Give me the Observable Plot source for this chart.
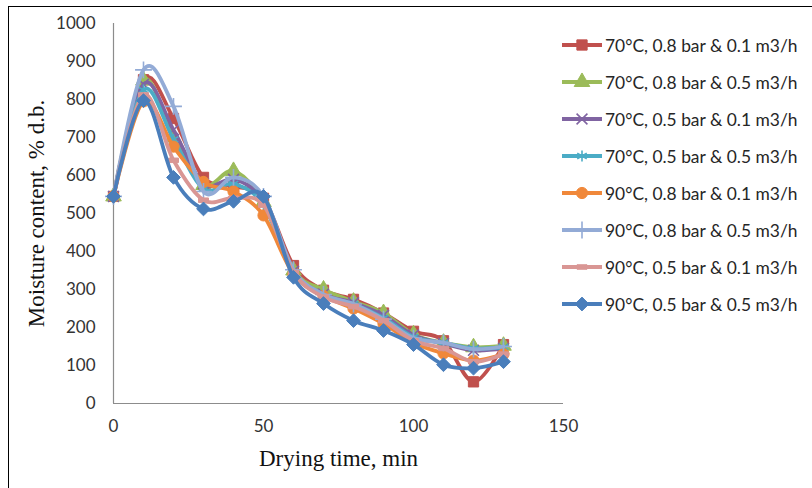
<!DOCTYPE html>
<html><head><meta charset="utf-8">
<script src="https://cdn.jsdelivr.net/npm/d3@7"></script>
<script src="https://cdn.jsdelivr.net/npm/@observablehq/plot@0.6"></script>
<style>
html,body{margin:0;padding:0;background:#fff;overflow:hidden}
#wrap{position:relative;width:812px;height:488px;overflow:hidden}
#frame{position:absolute;left:8px;top:6px;width:900px;height:600px;border:1.5px solid #000;box-sizing:border-box}
#chart{position:absolute;left:0;top:0}
.item{position:absolute;left:560px;height:22px;display:flex;align-items:center;font-family:Lato,"Open Sans",sans-serif;font-size:17.4px;color:#262626;white-space:nowrap}
.item svg{display:block;margin-right:1px}
</style></head><body>
<div id="wrap"><div id="frame"></div><div id="chart"></div><div id="legend"></div></div>
<script>
const times = [0, 10, 20, 30, 40, 50, 60, 70, 80, 90, 100, 110, 120, 130];
const seriesNames = [
  "70°C, 0.8 bar & 0.1 m3/h",
  "70°C, 0.8 bar & 0.5 m3/h",
  "70°C, 0.5 bar & 0.1 m3/h",
  "70°C, 0.5 bar & 0.5 m3/h",
  "90°C, 0.8 bar & 0.1 m3/h",
  "90°C, 0.8 bar & 0.5 m3/h",
  "90°C, 0.5 bar & 0.1 m3/h",
  "90°C, 0.5 bar & 0.5 m3/h"
];
const m70_08_01 = [545, 852, 750, 595, 572, 540, 363, 298, 274, 238, 190, 165, 57, 155];
const m70_08_05 = [545, 850, 700, 575, 612, 530, 350, 300, 268, 238, 182, 160, 148, 152];
const m70_05_01 = [545, 840, 720, 578, 590, 532, 348, 288, 265, 232, 180, 158, 140, 145];
const m70_05_05 = [545, 825, 695, 565, 578, 522, 345, 285, 262, 225, 175, 160, 145, 148];
const m90_08_01 = [545, 795, 676, 583, 558, 495, 340, 283, 250, 210, 160, 132, 113, 130];
const m90_08_05 = [545, 878, 782, 558, 595, 545, 352, 287, 262, 222, 172, 160, 143, 150];
const m90_05_01 = [545, 812, 640, 535, 540, 522, 345, 280, 255, 218, 165, 145, 110, 130];
const m90_05_05 = [545, 797, 595, 512, 532, 545, 332, 263, 218, 192, 155, 102, 93, 110];
const seriesValues = [m70_08_01, m70_08_05, m70_05_01, m70_05_05, m90_08_01, m90_08_05, m90_05_01, m90_05_05];
const colors = ["#C0504D", "#9BBB59", "#8064A2", "#4BACC6", "#F0883A", "#93ABD6", "#D99694", "#4A7EBB"];
const xTicks = [0, 50, 100, 150];
const yTicks = [0, 100, 200, 300, 400, 500, 600, 700, 800, 900, 1000];
const xTitle = "Drying time, min";
const yTitle = "Moisture content, % d.b.";

const dash = {draw(ctx, size) { const h = Math.sqrt(size / Math.PI); ctx.rect(-h, -h * 0.45, 2 * h, h * 0.9); }};
const symbols = ["square", "triangle", "times", "asterisk", "circle", "plus", dash, "diamond2"];
const d3symbols = [d3.symbolSquare, d3.symbolTriangle, d3.symbolTimes, d3.symbolAsterisk, d3.symbolCircle, d3.symbolPlus, dash, d3.symbolDiamond2];
const filled = [true, true, false, false, true, false, true, true];
const radii = [5.8, 5.8, 5, 5.2, 5.6, 5.5, 5, 6.2];

const data = [];
seriesNames.forEach((name, i) => seriesValues[i].forEach((v, j) => data.push({name, t: times[j], v})));

const marks = [
  Plot.ruleY([0], {stroke: "#8c8c8c", strokeWidth: 1.2}),
  Plot.ruleX([0], {stroke: "#8c8c8c", strokeWidth: 1.2}),
  Plot.axisY({ticks: yTicks, tickFormat: d3.format("d"), tickSize: 0, tickPadding: 18, label: null, fontSize: 17, fontFamily: "Lato", fill: "#333"}),
  Plot.axisX({ticks: xTicks, tickFormat: d3.format("d"), tickSize: 0, tickPadding: 16, label: null, fontSize: 17, fontFamily: "Lato", fill: "#333"}),
  Plot.text([yTitle], {text: d => d, frameAnchor: "left", textAnchor: "middle", dx: -77, rotate: -90, fontFamily: "Liberation Serif", fontSize: 23, fill: "#111"}),
  Plot.text([xTitle], {text: d => d, frameAnchor: "bottom", textAnchor: "middle", dy: 62, fontFamily: "Liberation Serif", fontSize: 23, fill: "#111"})
];
seriesNames.forEach((name, i) => {
  const d = data.filter(r => r.name === name);
  marks.push(Plot.line(d, {x: "t", y: "v", stroke: "name", strokeWidth: 3.8, curve: "cardinal", tension: 0}));
  marks.push(Plot.dot(d, {x: "t", y: "v", symbol: symbols[i], r: radii[i],
    fill: filled[i] ? "name" : "none", stroke: "name", strokeWidth: filled[i] ? 1 : 1.6}));
});

const chart = Plot.plot({
  width: 812, height: 488,
  marginLeft: 113, marginRight: 249, marginTop: 23, marginBottom: 85,
  x: {domain: [0, 150]},
  y: {domain: [0, 1000]},
  color: {domain: seriesNames, range: colors},
  style: {background: "transparent", overflow: "visible"},
  marks
});
document.getElementById("chart").append(chart);

const legend = d3.select("#legend");
seriesNames.forEach((name, i) => {
  const item = legend.append("div").attr("class", "item").style("top", (45 + 37 * i - 11) + "px");
  const svg = item.append("svg").attr("width", 44).attr("height", 22);
  svg.append("line").attr("x1", 2).attr("x2", 42).attr("y1", 11).attr("y2", 11)
    .attr("stroke", colors[i]).attr("stroke-width", 3.8);
  svg.append("path").attr("transform", "translate(22,11)")
    .attr("d", d3.symbol(d3symbols[i], Math.PI * radii[i] * radii[i])())
    .attr("fill", filled[i] ? colors[i] : "none").attr("stroke", colors[i]).attr("stroke-width", filled[i] ? 1 : 1.6);
  item.append("span").text(name);
});
</script>
</body></html>
